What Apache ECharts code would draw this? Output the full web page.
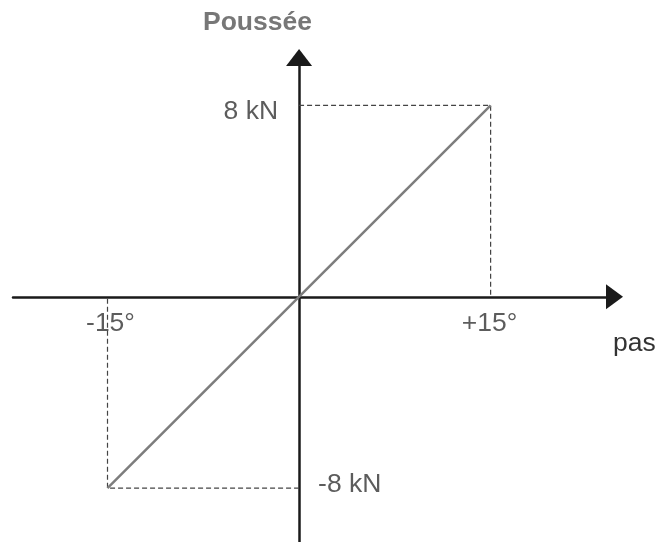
<!DOCTYPE html>
<html>
<head>
<meta charset="utf-8">
<script src="https://cdn.jsdelivr.net/npm/echarts@6/dist/echarts.min.js"></script>
<style>
  html, body { margin: 0; padding: 0; background: #fff; }
  #main { width: 656px; height: 542px; }
</style>
</head>
<body>
<div id="main"></div>
<script>
// pas (deg) -> poussée (kN)
var pasValues = [-15, 15];
var pousseeValues = [-8, 8];
var xTickLabels = ['-15°', '+15°'];
var yTickLabels = ['-8 kN', '8 kN'];

var FONT = '"Liberation Sans", Arial, sans-serif';
var TXT = { color: '#333', fontSize: 26.5, fontFamily: FONT };

var myChart = echarts.init(document.getElementById('main'));

// droite de la poussée
var lineData = pasValues.map(function (v, i) { return [v, pousseeValues[i]]; });
// pointillés de repère
var guideNeg = [[0, pousseeValues[0]], [pasValues[0], pousseeValues[0]], [pasValues[0], 0]];
var guidePos = [[0, pousseeValues[1]], [pasValues[1], pousseeValues[1]], [pasValues[1], 0]];

// étiquettes des graduations, posées sur les axes
var tickLabelData = [];
pasValues.forEach(function (v, i) {
    tickLabelData.push({
        value: [v, 0],
        label: echarts.util.extend({
            show: true, position: 'bottom', distance: 13,
            offset: [i === 0 ? 3 : -1, 0],
            formatter: xTickLabels[i]
        }, TXT)
    });
});
pousseeValues.forEach(function (v, i) {
    tickLabelData.push({
        value: [0, v],
        label: echarts.util.extend({
            show: true,
            position: v > 0 ? 'left' : 'right',
            distance: v > 0 ? 21 : 19,
            offset: [0, v > 0 ? 6 : -3],
            formatter: yTickLabels[i]
        }, TXT)
    });
});

var axisLineStyle = { color: '#1a1a1a', width: 2.5 };

var option = {
    animation: false,
    title: {
        text: 'Poussée',
        left: 203,
        top: 9,
        padding: 0,
        textStyle: { color: '#777', fontSize: 26.5, fontWeight: 'bold', fontFamily: FONT }
    },
    grid: { left: 13, right: 41.5, top: 57.5, bottom: 0, containLabel: false, outerBoundsMode: 'none' },
    xAxis: {
        type: 'value',
        min: -22.4,
        max: 24.7,
        name: 'pas',
        nameLocation: 'end',
        nameGap: -1.5,
        nameTextStyle: echarts.util.extend({
            align: 'left', verticalAlign: 'top', padding: [33, 0, 0, 0]
        }, TXT, { fontSize: 25 }),
        axisLine: {
            onZero: true,
            symbol: ['none', 'triangle'],
            symbolSize: [25, 17],
            lineStyle: axisLineStyle
        },
        axisTick: { show: false },
        splitLine: { show: false },
        axisLabel: { show: false }
    },
    yAxis: {
        type: 'value',
        min: -10.25,
        max: 10,
        axisLine: {
            onZero: true,
            symbol: ['none', 'triangle'],
            symbolSize: [26, 17],
            lineStyle: axisLineStyle
        },
        axisTick: { show: false },
        splitLine: { show: false },
        axisLabel: { show: false }
    },
    series: [
        {
            type: 'line',
            data: guidePos,
            symbol: 'none',
            lineStyle: { color: '#444', width: 1.2, type: [5, 3] },
            z: 1
        },
        {
            type: 'line',
            data: guideNeg,
            symbol: 'none',
            lineStyle: { color: '#444', width: 1.2, type: [5, 3] },
            z: 1
        },
        {
            type: 'line',
            data: lineData,
            symbol: 'none',
            lineStyle: { color: '#7d7d7d', width: 2.5 },
            z: 2
        },
        {
            type: 'scatter',
            symbolSize: 0,
            data: tickLabelData,
            silent: true,
            z: 3
        }
    ]
};
myChart.setOption(option);
</script>
</body>
</html>
